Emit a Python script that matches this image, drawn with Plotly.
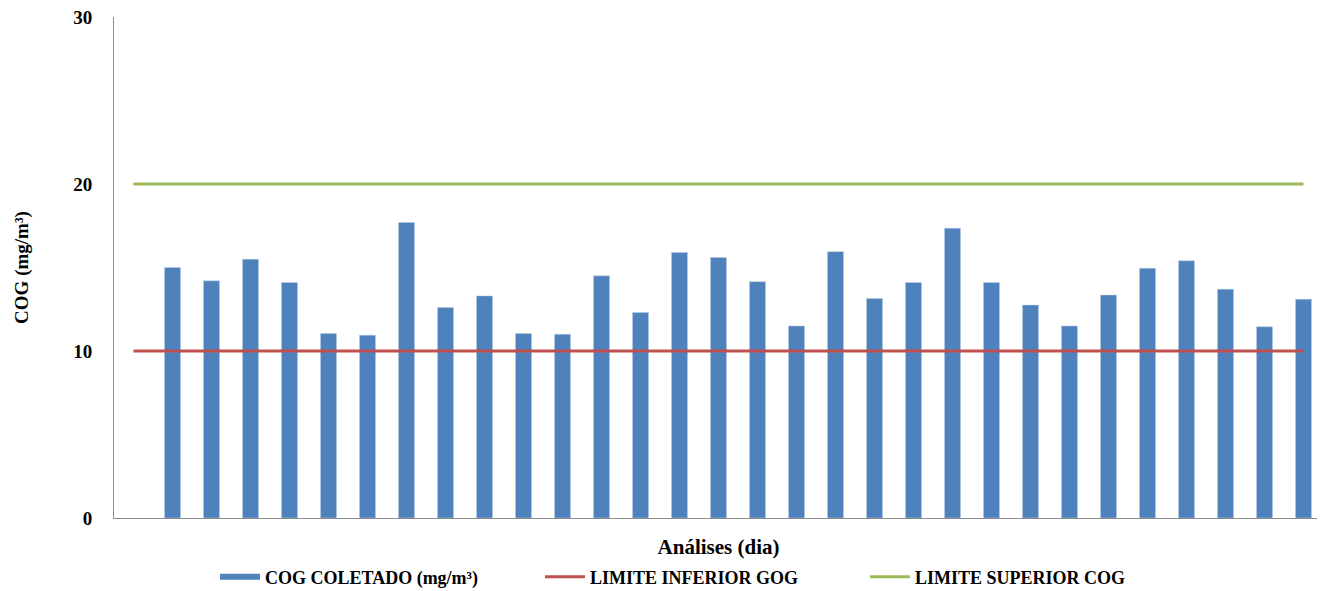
import plotly.graph_objects as go

days = list(range(1, 31))
cog_coletado = [15.0, 14.2, 15.5, 14.1, 11.05, 10.95, 17.7, 12.6, 13.3, 11.05,
                11.0, 14.5, 12.3, 15.9, 15.6, 14.15, 11.5, 15.95, 13.15, 14.1,
                17.35, 14.1, 12.75, 11.5, 13.35, 14.95, 15.4, 13.7, 11.45, 13.1]
limit_x = [0, 30]
limite_inferior = [10, 10]
limite_superior = [20, 20]
y_ticks = [0, 10, 20, 30]

FONT = '"Liberation Serif", "Times New Roman", Times, serif'
BLUE, RED, GREEN = "#4F81BD", "#C0504D", "#9BBB59"

fig = go.Figure()
fig.add_trace(go.Bar(
    x=days, y=cog_coletado, name="COG COLETADO (mg/m³)", showlegend=False,
    legendgroup="cog",
    marker=dict(color=BLUE, line=dict(color="#B9CDE5", width=0.5)),
    width=0.41,
))
# legend proxy (wide bar-like swatch)
fig.add_trace(go.Scatter(
    x=[None], y=[None], mode="lines", name="COG COLETADO (mg/m³)",
    legendgroup="cog", line=dict(color=BLUE, width=6),
))
fig.add_trace(go.Scatter(
    x=limit_x, y=limite_inferior, mode="lines", name="LIMITE INFERIOR GOG",
    line=dict(color=RED, width=3),
))
fig.add_trace(go.Scatter(
    x=limit_x, y=limite_superior, mode="lines", name="LIMITE SUPERIOR COG",
    line=dict(color=GREEN, width=3),
))

fig.update_layout(
    width=1317, height=591,
    margin=dict(l=106, r=2, t=9, b=81),
    plot_bgcolor="white", paper_bgcolor="white",
    font=dict(family=FONT, color="black", weight="bold"),
    showlegend=True,
    legend=dict(orientation="h", x=0.0835, xanchor="left", y=-0.118, yanchor="middle",
                font=dict(size=18, family=FONT, weight="bold"), traceorder="normal",
                itemwidth=40, entrywidth=270),
    xaxis=dict(range=[-0.5, 30.5], showticklabels=False, ticks="", showgrid=False,
               zeroline=False, showline=True, linecolor="#8C8C8C", linewidth=1,
               title=dict(text="Análises (dia)", font=dict(size=21, weight="bold"), standoff=21)),
    yaxis=dict(range=[0, 30], tickvals=y_ticks, showgrid=False, zeroline=False,
               showline=True, linecolor="#8C8C8C", linewidth=1, ticks="",
               tickfont=dict(size=19, weight="bold"), ticklabelstandoff=17,
               ticklabeloverflow="allow", automargin=False,
               title=dict(text="COG (mg/m³)", font=dict(size=19, weight="bold"), standoff=39)),
)

fig.write_html("out.html")
